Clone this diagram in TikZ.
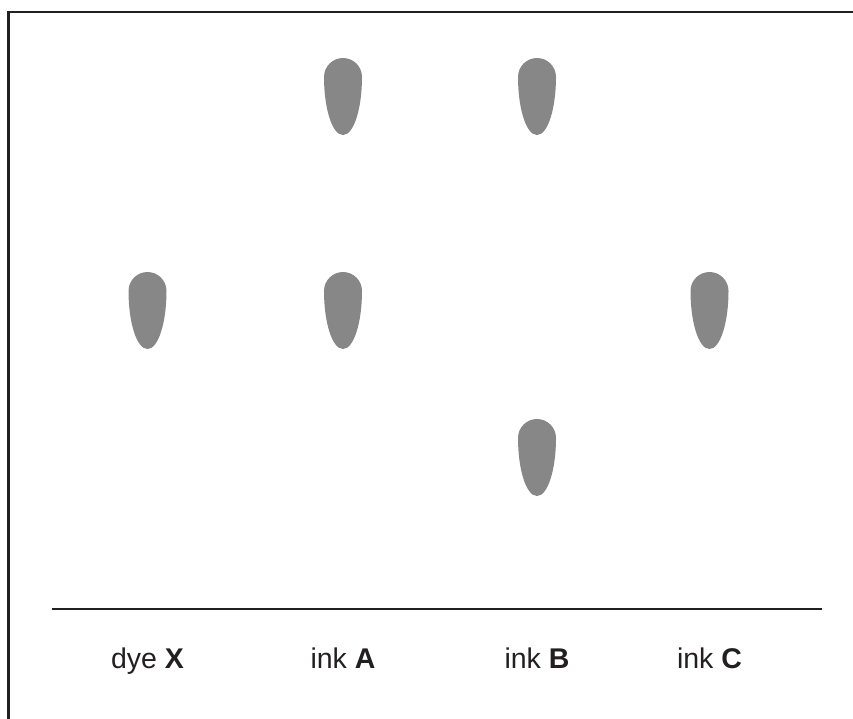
\documentclass[tikz,border=0pt]{standalone}
\usepackage{fontspec}
\setmainfont{Liberation Sans}
\definecolor{dropgray}{HTML}{878787}
\definecolor{inkc}{HTML}{231F20}
\begin{document}
\begin{tikzpicture}[x=1pt,y=1pt,
  framel/.style={line width=2.2pt, draw=inkc},
  baseln/.style={line width=2pt, draw=inkc},
  lbl/.style={anchor=base, inner sep=0pt, text=inkc, font=\fontsize{28.5}{30}\selectfont},
  drop/.pic={\fill[dropgray] (0,-77) .. controls (-11,-77) and (-19,-50) .. (-19,-19)
      arc[start angle=180,end angle=0,radius=19]
      .. controls (19,-50) and (11,-77) .. (0,-77) -- cycle;}]
\useasboundingbox (0,0) rectangle (853,-718);
% frame (left and top edges visible)
\draw[framel] (8.5,-720) -- (8.5,-12) -- (855,-12);
% drops
\pic at (343,-58) {drop};
\pic at (537,-58) {drop};
\pic at (147.5,-272) {drop};
\pic at (343,-272) {drop};
\pic at (709.5,-272) {drop};
\pic at (537,-419) {drop};
% baseline
\coordinate (bl) at (52,-609);
\coordinate (br) at (822,-609);
\draw[baseln] (bl) -- (br);
% labels
\node[lbl] (lx) at (147.5,-668) {dye \textbf{X}};
\node[lbl] (la) at (343,-668) {ink \textbf{A}};
\node[lbl] (lb) at (537,-668) {ink \textbf{B}};
\node[lbl] (lc) at (709.5,-668) {ink \textbf{C}};
\end{tikzpicture}
\end{document}
